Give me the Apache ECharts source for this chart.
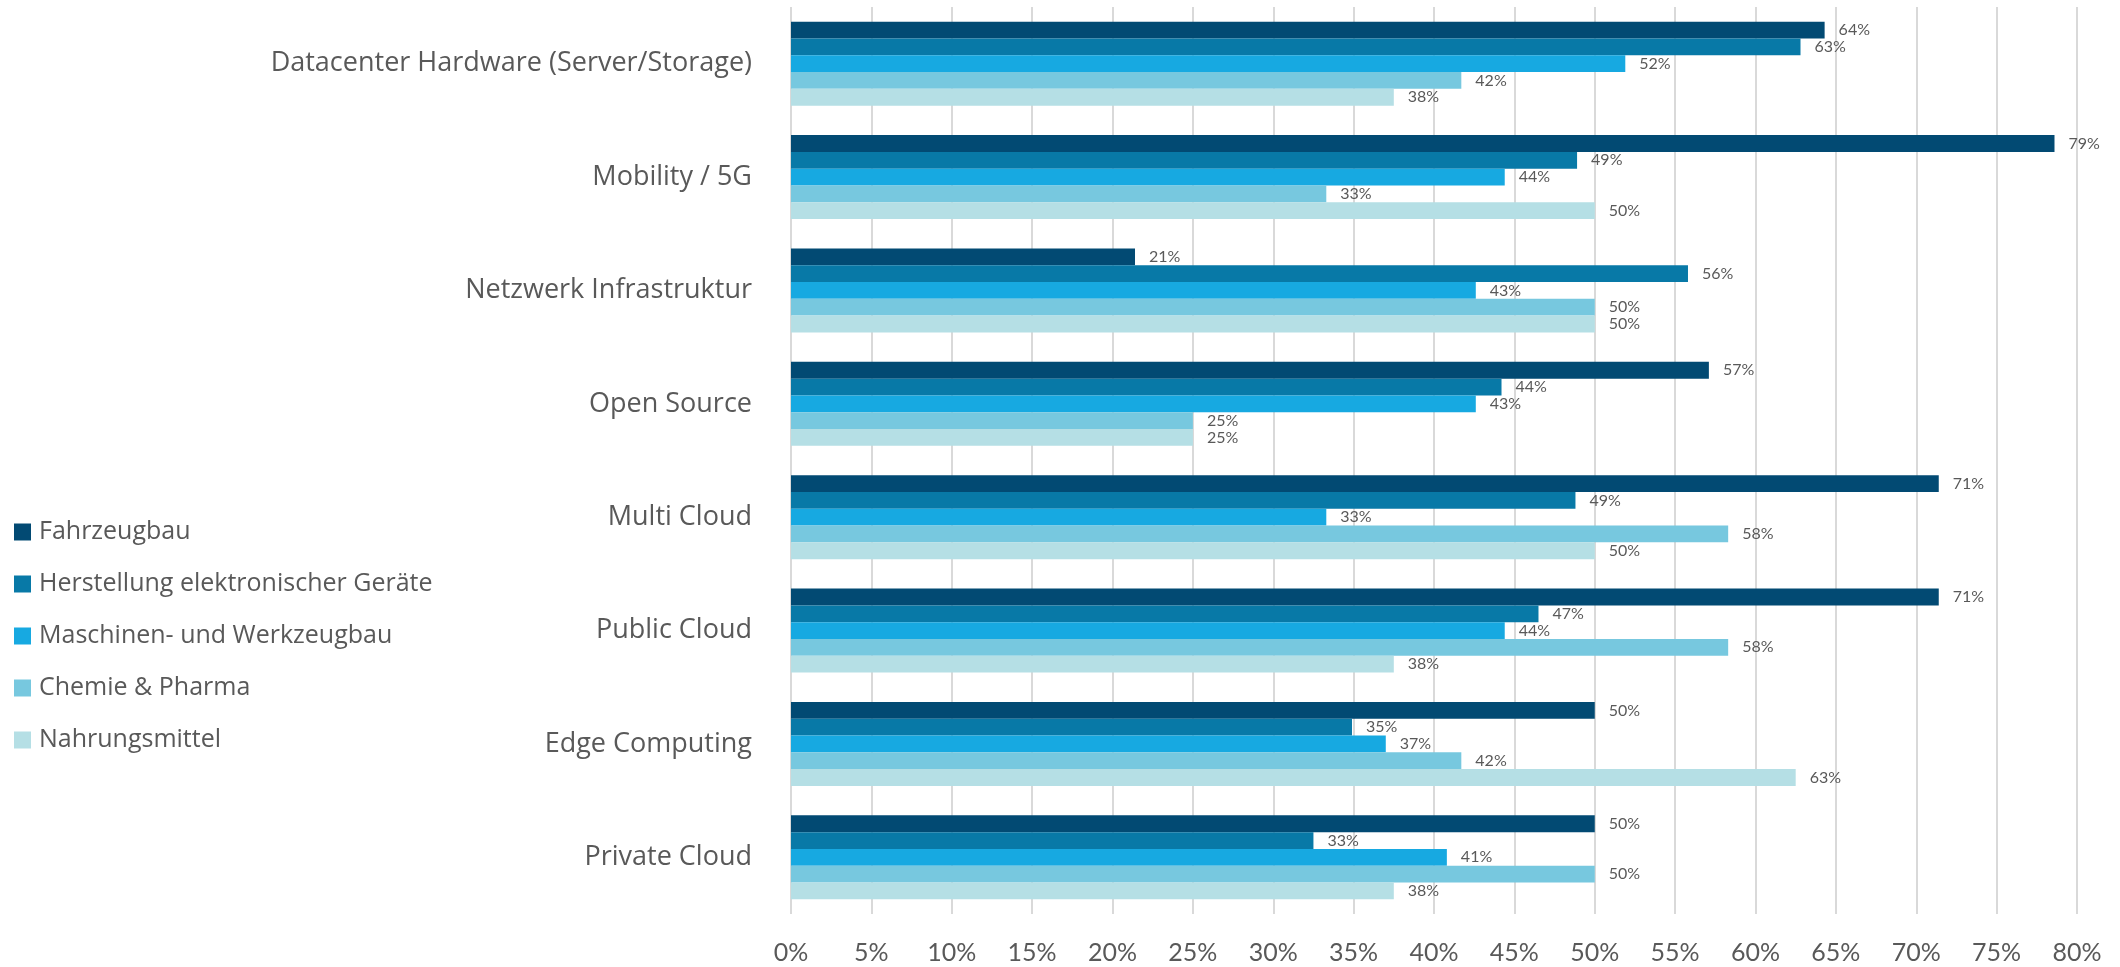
<!DOCTYPE html>
<html>
<head>
<meta charset="utf-8">
<script src="https://cdn.jsdelivr.net/npm/echarts@6/dist/echarts.min.js"></script>
<style>
  html, body { margin: 0; padding: 0; background: #fff; }
  #chart { width: 2120px; height: 967px; }
</style>
</head>
<body>
<div id="chart"></div>
<script>
var chart = echarts.init(document.getElementById('chart'));

// Kategorien (von oben nach unten)
var categories = [
    'Datacenter Hardware (Server/Storage)',
    'Mobility / 5G',
    'Netzwerk Infrastruktur',
    'Open Source',
    'Multi Cloud',
    'Public Cloud',
    'Edge Computing',
    'Private Cloud'
];

var seriesNames = [
    'Fahrzeugbau',
    'Herstellung elektronischer Geräte',
    'Maschinen- und Werkzeugbau',
    'Chemie & Pharma',
    'Nahrungsmittel'
];

var colors = ['#024a73', '#0879a7', '#17a9e1', '#77c8df', '#b5dfe5'];

// Werte in Prozent, je Branche
var fahrzeugbau = [64.3, 78.6, 21.4, 57.1, 71.4, 71.4, 50.0, 50.0];
var elektronik = [62.8, 48.9, 55.8, 44.2, 48.8, 46.5, 34.9, 32.5];
var maschinenbau = [51.9, 44.4, 42.6, 42.6, 33.3, 44.4, 37.0, 40.8];
var chemie = [41.7, 33.3, 50.0, 25.0, 58.3, 58.3, 41.7, 50.0];
var nahrung = [37.5, 50.0, 50.0, 25.0, 50.0, 37.5, 62.5, 37.5];

var values = [fahrzeugbau, elektronik, maschinenbau, chemie, nahrung];

var font = 'Lato, "Open Sans", sans-serif';
var textFont = '"Open Sans", sans-serif';

var series = seriesNames.map(function (name, i) {
    return {
        name: name,
        type: 'bar',
        barGap: '0%',
        barCategoryGap: '26%',
        itemStyle: { color: colors[i] },
        label: {
            show: true,
            position: 'right',
            distance: 14,
            fontFamily: font,
            fontSize: 16,
            color: '#595959',
            formatter: function (p) { return Math.round(p.value) + '%'; }
        },
        data: values[i]
    };
});

option = {
    animation: false,
    color: colors,
    grid: {
        left: 791,
        right: 43,
        top: 7,
        bottom: 53
    },
    legend: {
        orient: 'vertical',
        left: 9,
        top: 514,
        icon: 'rect',
        itemWidth: 17,
        itemHeight: 17,
        itemGap: 26,
        textStyle: {
            fontFamily: textFont,
            fontSize: 25,
            lineHeight: 26,
            color: '#595959',
            padding: [0, 0, 0, 3]
        },
        data: seriesNames
    },
    xAxis: {
        type: 'value',
        min: 0,
        max: 80,
        interval: 5,
        axisLine: { show: false },
        axisTick: { show: false },
        splitLine: { lineStyle: { color: '#d9d9d9', width: 2 } },
        axisLabel: {
            fontFamily: font,
            fontSize: 25,
            color: '#595959',
            margin: 26,
            formatter: '{value}%'
        }
    },
    yAxis: {
        type: 'category',
        inverse: true,
        data: categories,
        axisLine: { show: false },
        axisTick: { show: false },
        axisLabel: {
            fontFamily: textFont,
            fontSize: 27,
            color: '#595959',
            margin: 39
        }
    },
    series: series
};
chart.setOption(option);
</script>
</body>
</html>
